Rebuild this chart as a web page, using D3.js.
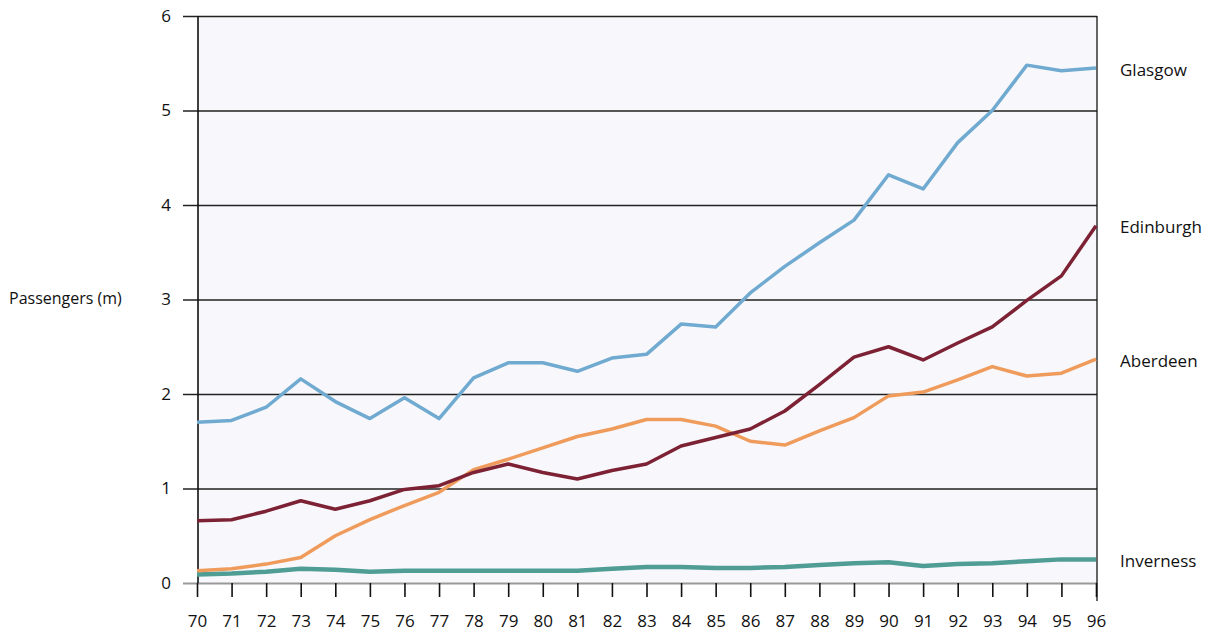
<!DOCTYPE html>
<html>
    <head>
        <script src="https://d3js.org/d3.v7.min.js"></script>
        <style>
            body {
                margin: 0;
                overflow: hidden;
                background: #fff;
            }
            text {
                font-family: 'Open Sans', 'Noto Sans', sans-serif;
                fill: #111;
            }
        </style>
    </head>

    <body>
        <script>
            const years = [70, 71, 72, 73, 74, 75, 76, 77, 78, 79, 80, 81, 82, 83, 84, 85, 86, 87, 88, 89, 90, 91, 92, 93, 94, 95, 96];
            const yTicks = [0, 1, 2, 3, 4, 5, 6];

            const glasgow = [1.7, 1.72, 1.86, 2.16, 1.92, 1.74, 1.96, 1.74, 2.17, 2.33, 2.33, 2.24, 2.38, 2.42, 2.74, 2.71, 3.07, 3.35, 3.6, 3.84, 4.32, 4.17, 4.66, 5.0, 5.48, 5.42, 5.45];
            const edinburgh = [0.66, 0.67, 0.76, 0.87, 0.78, 0.87, 0.99, 1.03, 1.17, 1.26, 1.17, 1.1, 1.19, 1.26, 1.45, 1.54, 1.63, 1.82, 2.1, 2.39, 2.5, 2.36, 2.54, 2.71, 2.99, 3.25, 3.78];
            const aberdeen = [0.13, 0.15, 0.2, 0.27, 0.5, 0.67, 0.82, 0.96, 1.2, 1.31, 1.43, 1.55, 1.63, 1.73, 1.73, 1.66, 1.5, 1.46, 1.61, 1.75, 1.98, 2.02, 2.15, 2.29, 2.19, 2.22, 2.37];
            const inverness = [0.09, 0.1, 0.12, 0.15, 0.14, 0.12, 0.13, 0.13, 0.13, 0.13, 0.13, 0.13, 0.15, 0.17, 0.17, 0.16, 0.16, 0.17, 0.19, 0.21, 0.22, 0.18, 0.2, 0.21, 0.23, 0.25, 0.25];

            const seriesNames = ['Inverness', 'Aberdeen', 'Edinburgh', 'Glasgow'];
            const seriesValues = [inverness, aberdeen, edinburgh, glasgow];
            const seriesColors = ['#4f9d95', '#ef9b5c', '#7d2234', '#70aad0'];

            const width = 1207;
            const height = 637;
            const plotLeft = 197;
            const plotRight = 1096;
            const plotTop = 16;
            const plotBottom = 583;

            const svg = d3.select('body').append('svg').attr('width', width).attr('height', height);

            const x = d3.scaleLinear().domain([70, 96]).range([plotLeft, plotRight]);
            const y = d3.scaleLinear().domain([0, 6]).range([plotBottom, plotTop]);

            // faint scan tint behind the plot
            svg.append('rect')
                .attr('x', plotLeft)
                .attr('y', plotTop)
                .attr('width', plotRight - plotLeft)
                .attr('height', plotBottom - plotTop)
                .attr('fill', '#f8f8fc');

            // y gridlines + labels
            const gridLen = plotRight - plotLeft + 15;
            const yAxis = d3
                .axisLeft(y)
                .tickValues(yTicks)
                .tickSize(gridLen)
                .tickFormat(d3.format('d'));
            const gy = svg
                .append('g')
                .attr('transform', `translate(${plotRight + 1},0)`)
                .call(yAxis);
            gy.select('.domain').remove();
            gy.selectAll('.tick line')
                .attr('stroke', (d) => (d === 0 ? '#999' : '#222'))
                .attr('stroke-width', (d) => (d === 0 ? 2 : 1.3));
            gy.selectAll('.tick text')
                .attr('x', -gridLen - 12)
                .attr('fill', '#111')
                .style('font-size', '17px')
                .style('font-family', "'Open Sans', sans-serif");

            // x ticks
            const xAxis = d3
                .axisBottom(x)
                .tickValues(years)
                .tickSize(14)
                .tickPadding(18)
                .tickFormat(d3.format('d'));
            const gx = svg.append('g').attr('transform', `translate(0,${plotBottom})`).call(xAxis);
            gx.select('.domain').remove();
            gx.selectAll('.tick line').attr('stroke', '#111').attr('stroke-width', 1.6);
            gx.selectAll('.tick text')
                .attr('fill', '#111')
                .style('font-size', '17px')
                .style('font-family', "'Open Sans', sans-serif");

            // left axis and right frame
            svg.append('line')
                .attr('x1', plotLeft + 1)
                .attr('x2', plotLeft + 1)
                .attr('y1', plotTop)
                .attr('y2', plotBottom)
                .attr('stroke', '#111')
                .attr('stroke-width', 1.6);
            svg.append('line')
                .attr('x1', plotRight + 1)
                .attr('x2', plotRight + 1)
                .attr('y1', plotTop)
                .attr('y2', plotBottom + 18)
                .attr('stroke', '#111')
                .attr('stroke-width', 1.3);

            const line = d3
                .line()
                .x((d, i) => x(years[i]))
                .y((d) => y(d));

            svg.append('g')
                .selectAll('path')
                .data(seriesValues)
                .join('path')
                .attr('d', line)
                .attr('fill', 'none')
                .attr('stroke', (d, i) => seriesColors[i])
                .attr('stroke-width', (d, i) => (i === 0 ? 4.5 : 3.5))
                .attr('stroke-linejoin', 'round');

            // series labels at line ends
            svg.append('g')
                .selectAll('text')
                .data(seriesValues)
                .join('text')
                .attr('x', x(96) + 24)
                .attr('y', (d) => y(d[d.length - 1]) + 3)
                .attr('dominant-baseline', 'middle')
                .style('font-size', '17px')
                .text((d, i) => seriesNames[i]);

            svg.append('text')
                .attr('x', 9)
                .attr('y', y(3))
                .attr('dominant-baseline', 'middle')
                .style('font-size', '16px')
                .text('Passengers (m)');
        </script>
    </body>
</html>
